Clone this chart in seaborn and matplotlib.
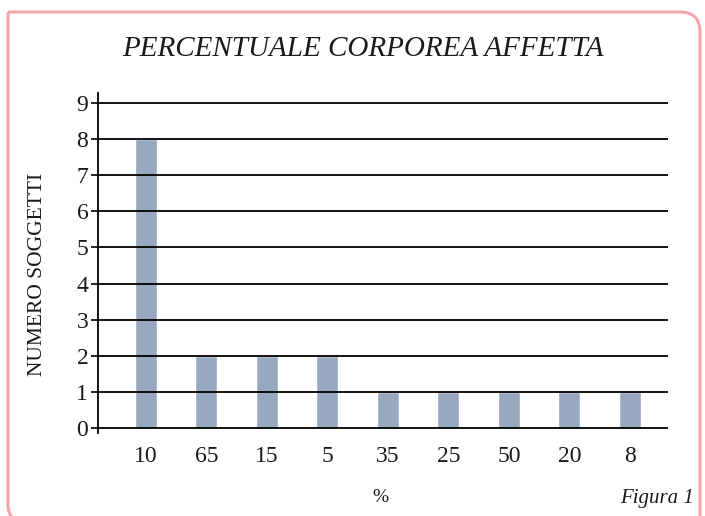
"""Bar chart: percentuale corporea affetta."""
import matplotlib.pyplot as plt
import pandas as pd
import seaborn as sns
from matplotlib.patches import PathPatch
from matplotlib.path import Path
from matplotlib.transforms import Affine2D

categories = ["10", "65", "15", "5", "35", "25", "50", "20", "8"]
soggetti = [8, 2, 2, 2, 1, 1, 1, 1, 1]
y_ticks = list(range(10))

df = pd.DataFrame({"perc": categories, "n": soggetti})

sns.set_theme(style="white")
plt.rcParams["font.family"] = ["Liberation Serif", "DejaVu Serif"]
plt.rcParams["text.color"] = "#1a1a1a"

W, H = 705, 516
fig = plt.figure(figsize=(W / 100, H / 100), dpi=100)
ax = fig.add_axes([98 / W, 1 - 433 / H, (668 - 98) / W, (433 - 93) / H])

sns.barplot(data=df, x="perc", y="n", order=categories, color="#97a8bf",
            saturation=1, width=0.36, ax=ax, zorder=1)

for v in y_ticks:
    ax.axhline(v, color="black", lw=1.3, zorder=3)

ax.set_xlim(-0.79, 8.63)
ax.set_ylim(-0.14, 9.28)
ax.set_yticks(y_ticks)
ax.tick_params(axis="y", direction="out", length=5, width=1.2, labelsize=17,
               left=True, color="black", labelcolor="#1a1a1a", pad=2)
ax.tick_params(axis="x", length=0, labelsize=17, pad=9, labelcolor="#1a1a1a")
for s in ["top", "right", "bottom"]:
    ax.spines[s].set_visible(False)
ax.spines["left"].set_color("black")
ax.spines["left"].set_linewidth(1.3)
ax.set_xlabel("")
ax.set_ylabel("")

fig.text(38 / W, 1 - 274 / H, "NUMERO SOGGETTI", rotation=90,
         ha="center", va="center", fontsize=15.5)
fig.text(363 / W, 1 - 49 / H, "PERCENTUALE CORPOREA AFFETTA",
         ha="center", va="center", fontsize=21, style="italic")
fig.text(380 / W, 1 - 498 / H, "%", ha="center", va="center", fontsize=14)
fig.text(694 / W, 1 - 499 / H, "Figura 1", ha="right", va="center",
         fontsize=15, style="italic")

# pink frame: square top-left, rounded top-right and bottom-left, open below
r1, r2 = 20, 16
x0, x1, y0, y1 = 8, 700, 12, 521
verts = [(x0, y0), (x1 - r1, y0), (x1, y0), (x1, y0 + r1), (x1, y1 + 20),
         (x0 + r2, y1 + 20), (x0 + r2, y1), (x0, y1), (x0, y1 - r2), (x0, y0)]
codes = [Path.MOVETO, Path.LINETO, Path.CURVE3, Path.CURVE3, Path.LINETO,
         Path.MOVETO, Path.LINETO, Path.CURVE3, Path.CURVE3, Path.LINETO]
pix = Affine2D().scale(1 / W, -1 / H).translate(0, 1) + fig.transFigure
frame = PathPatch(Path(verts, codes), fill=False, edgecolor="#f2a5ab",
                  lw=2.2, transform=pix)
fig.patches.append(frame)

fig.savefig("out.png", dpi=100)
plt.close(fig)
